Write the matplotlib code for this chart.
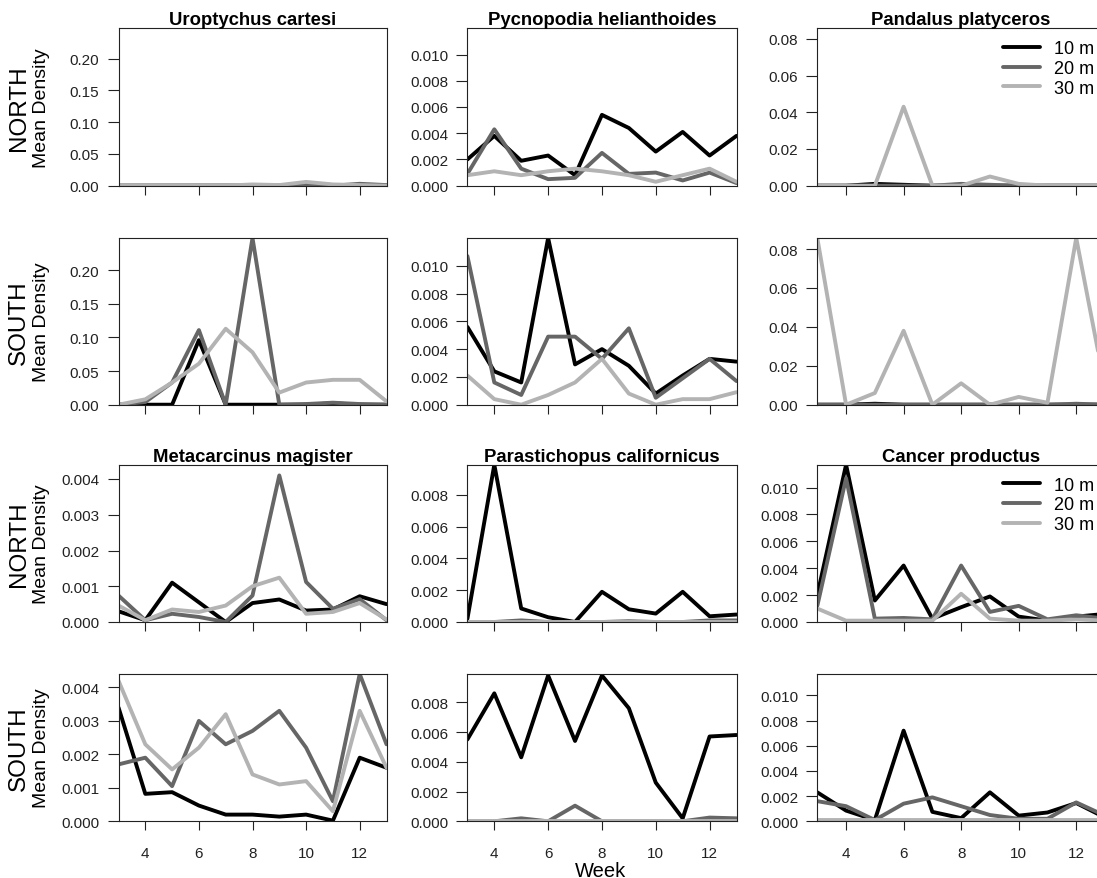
import matplotlib
matplotlib.use('Agg')
import matplotlib.pyplot as plt

plt.rcParams['font.family'] = ['Liberation Sans', 'DejaVu Sans']

weeks = [3, 4, 5, 6, 7, 8, 9, 10, 11, 12, 13]
depths = ['10 m', '20 m', '30 m']
depth_colors = ['#000000', '#666666', '#b3b3b3']
regions = ['NORTH', 'SOUTH']

# mean density per week; inner lists are 10 m, 20 m, 30 m
uro_north = [
    [0, 0, 0, 0, 0, 0, 0, 0.001, 0, 0, 0],
    [0, 0, 0, 0, 0, 0, 0, 0.001, 0, 0.003, 0.001],
    [0, 0, 0, 0, 0, 0.002, 0.001, 0.006, 0.002, 0.001, 0],
]
uro_south = [
    [0, 0, 0, 0.096, 0, 0, 0, 0, 0.002, 0, 0],
    [0, 0.004, 0.033, 0.111, 0, 0.248, 0, 0.001, 0.003, 0.001, 0],
    [0, 0.008, 0.033, 0.061, 0.113, 0.078, 0.018, 0.033, 0.037, 0.037, 0.005],
]
pyc_north = [
    [0.0020, 0.0038, 0.0019, 0.0023, 0.0008, 0.0054, 0.0044, 0.0026, 0.0041, 0.0023, 0.0038],
    [0.0009, 0.0043, 0.0013, 0.0005, 0.0006, 0.0025, 0.0009, 0.0010, 0.0004, 0.0010, 0.0002],
    [0.0008, 0.0011, 0.0008, 0.0011, 0.0013, 0.0011, 0.0008, 0.0003, 0.0008, 0.0013, 0.0003],
]
pyc_south = [
    [0.0056, 0.0024, 0.0016, 0.0120, 0.0029, 0.0040, 0.0028, 0.0008, 0.0021, 0.0033, 0.0031],
    [0.0107, 0.0016, 0.0007, 0.0049, 0.0049, 0.0033, 0.0055, 0.0005, 0.0019, 0.0033, 0.0017],
    [0.0021, 0.0004, 0.0000, 0.0007, 0.0016, 0.0033, 0.0008, 0.0000, 0.0004, 0.0004, 0.0009],
]
pan_north = [
    [0, 0, 0.001, 0.0005, 0, 0, 0, 0, 0, 0, 0],
    [0, 0, 0, 0, 0, 0.001, 0.0005, 0, 0, 0, 0],
    [0, 0, 0, 0.043, 0, 0, 0.005, 0.001, 0, 0, 0],
]
pan_south = [
    [0, 0, 0.0005, 0, 0, 0, 0, 0, 0, 0, 0],
    [0, 0, 0, 0, 0, 0, 0, 0, 0, 0.0005, 0],
    [0.0857, 0, 0.006, 0.038, 0, 0.011, 0, 0.004, 0.001, 0.0857, 0.009],
]
meta_north = [
    [0.0003, 0.00005, 0.0011, 0.00055, 0, 0.00053, 0.00063, 0.00032, 0.00035, 0.00072, 0.0005],
    [0.00074, 0.00005, 0.00023, 0.00014, 0, 0.00074, 0.0041, 0.00112, 0.00037, 0.00064, 0.00005],
    [0.00046, 0.00005, 0.00035, 0.00028, 0.00046, 0.0010, 0.00124, 0.00023, 0.00028, 0.00053, 0.00007],
]
meta_south = [
    [0.0034, 0.00082, 0.00087, 0.00047, 0.0002, 0.0002, 0.00014, 0.0002, 0.00002, 0.0019, 0.0016],
    [0.0017, 0.0019, 0.00105, 0.0030, 0.0023, 0.0027, 0.0033, 0.0022, 0.0006, 0.0044, 0.0023],
    [0.0042, 0.0023, 0.00155, 0.0022, 0.0032, 0.0014, 0.0011, 0.0012, 0.0003, 0.0033, 0.0016],
]
para_north = [
    [0.0002, 0.0099, 0.00085, 0.0003, 0, 0.0019, 0.0008, 0.00053, 0.0019, 0.00036, 0.00047],
    [0, 0, 0.0001, 0, 0, 0, 0.00005, 0, 0, 0.0001, 0.0001],
    [0.00003, 0.00003, 0.00003, 0.00003, 0.00003, 0.00003, 0.00003, 0.00003, 0.00003, 0.00003, 0.00003],
]
para_south = [
    [0.0055, 0.0086, 0.0043, 0.0098, 0.0054, 0.0098, 0.0076, 0.0026, 0.0002, 0.0057, 0.0058],
    [0, 0, 0.0002, 0, 0.00105, 0, 0, 0, 0, 0.00025, 0.0002],
    [0.00003, 0.00003, 0.00003, 0.00003, 0.00003, 0.00003, 0.00003, 0.00003, 0.00003, 0.00003, 0.00003],
]
can_north = [
    [0.0020, 0.0117, 0.0016, 0.0042, 0.00025, 0.0011, 0.0019, 0.0004, 0.0001, 0.0004, 0.0006],
    [0.0012, 0.0107, 0.00025, 0.0003, 0.0002, 0.0042, 0.00075, 0.0012, 0.0002, 0.0005, 0.00025],
    [0.0010, 0.0001, 0.0001, 0.0001, 0.0001, 0.0021, 0.00025, 0.0001, 0.0001, 0.0002, 0.0001],
]
can_south = [
    [0.0023, 0.00085, 0.0001, 0.0072, 0.00075, 0.00025, 0.0023, 0.00045, 0.0007, 0.00145, 0.0003],
    [0.0016, 0.0012, 0.0001, 0.0014, 0.0019, 0.0012, 0.0005, 0.0002, 0.0002, 0.0015, 0.00045],
    [0.0001, 0.0001, 0.0001, 0.0001, 0.0001, 0.0001, 0.0001, 0.0001, 0.0001, 0.0001, 0.0001],
]

uro_ticks = [0, 0.05, 0.10, 0.15, 0.20]
pyc_ticks = [0, 0.002, 0.004, 0.006, 0.008, 0.010]
pan_ticks = [0, 0.02, 0.04, 0.06, 0.08]
meta_ticks = [0, 0.001, 0.002, 0.003, 0.004]
para_ticks = [0, 0.002, 0.004, 0.006, 0.008]
can_ticks = [0, 0.002, 0.004, 0.006, 0.008, 0.010]
week_ticks = [4, 6, 8, 10, 12]

# (title, north data, south data, y ticks, decimals)
panels = [
    ('Uroptychus cartesi', uro_north, uro_south, uro_ticks, 2),
    ('Pycnopodia helianthoides', pyc_north, pyc_south, pyc_ticks, 3),
    ('Pandalus platyceros', pan_north, pan_south, pan_ticks, 2),
    ('Metacarcinus magister', meta_north, meta_south, meta_ticks, 3),
    ('Parastichopus californicus', para_north, para_south, para_ticks, 3),
    ('Cancer productus', can_north, can_south, can_ticks, 3),
]

W, H = 1097, 879
fig = plt.figure(figsize=(W / 100, H / 100), dpi=100)

# pixel boxes of the plot regions (R layout), col 3 runs past the right edge
col_x = [(118.5, 386.5), (467.4, 736.5), (817.3, 1105.0)]
row_y = [(29.3, 186.7), (239.0, 405.7), (465.7, 623.0), (675.0, 822.3)]


def px_axes(x0, x1, y0, y1):
    return fig.add_axes([x0 / W, 1 - y1 / H, (x1 - x0) / W, (y1 - y0) / H])


for i, (title, north, south, yticks, dec) in enumerate(panels):
    block = i // 3
    col = i % 3
    ymax = max(max(max(s) for s in north), max(max(s) for s in south))
    for r, data in enumerate([north, south]):
        row = block * 2 + r
        ax = px_axes(col_x[col][0], col_x[col][1], row_y[row][0], row_y[row][1])
        lines = []
        for k in range(3):
            ln, = ax.plot(weeks, data[k], color=depth_colors[k], lw=2.8,
                          solid_joinstyle='round', solid_capstyle='round', label=depths[k])
            lines.append(ln)
        ax.set_xlim(3, 13)
        ax.set_ylim(0, ymax)
        ax.set_yticks(yticks)
        ax.set_yticklabels([f'{v:.{dec}f}' for v in yticks])
        ax.set_xticks(week_ticks)
        if row == 3:
            ax.set_xticklabels([str(w) for w in week_ticks])
        else:
            ax.set_xticklabels([])
        ax.tick_params(axis='y', direction='out', length=7.7, width=0.8, pad=6,
                       labelsize=11, colors='#222222')
        ax.tick_params(axis='x', direction='out', length=6.7, width=0.8, pad=11,
                       labelsize=11, colors='#222222')
        for sp in ax.spines.values():
            sp.set_linewidth(0.8)
            sp.set_color('#222222')
        if r == 0:
            ax.set_title(title, fontsize=13.3, fontweight='bold', pad=1.5)
        if col == 0:
            cy = 1 - (row_y[row][0] + row_y[row][1]) / 2 / H
            fig.text(19 / W, cy, regions[r], rotation=90, fontsize=17.5,
                     ha='center', va='center')
            fig.text(42 / W, cy, 'Mean Density', rotation=90, fontsize=14,
                     ha='center', va='center')
        if col == 2 and r == 0:
            top = row_y[row][0] + 12
            ax.legend(handles=lines, loc='upper left', frameon=False,
                      bbox_to_anchor=(1003 / W, 1 - top / H), bbox_transform=fig.transFigure,
                      borderpad=0, borderaxespad=0, handlelength=2.05, handletextpad=0.8,
                      labelspacing=0.15, fontsize=13)

fig.text(601 / W, 1 - 877 / H, 'Week', fontsize=14.5, ha='center', va='baseline')

fig.savefig('out.png', dpi=100)
